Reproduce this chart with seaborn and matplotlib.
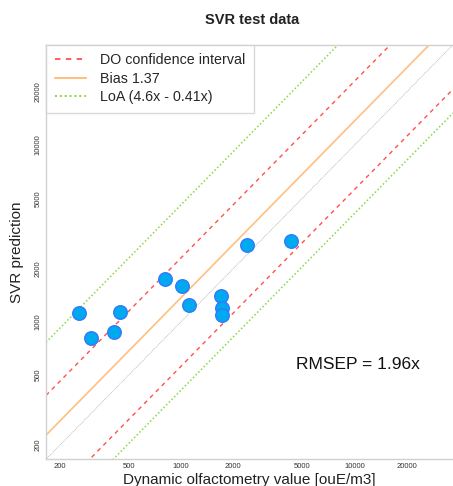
import numpy as np
import pandas as pd
import matplotlib
matplotlib.use("Agg")
import matplotlib.pyplot as plt
import seaborn as sns

# Data
do_values = [258, 303, 411, 441, 807, 1009, 1111, 1701, 1715, 1715, 2404, 4307]
svr_pred = [1122, 807, 870, 1127, 1748, 1588, 1241, 1397, 1188, 1089, 2722, 2844]

bias = 1.37
loa_upper, loa_lower = 4.6, 0.41
ci_upper, ci_lower = 2.3, 0.56
rmsep_text = "RMSEP = 1.96x"

tick_values = [200, 500, 1000, 2000, 5000, 10000, 20000]
tick_labels = ["200", "500", "1000", "2000", "5000", "10000", "20000"]

lims = (166, 37000)

sns.set_theme(style="white")
plt.rcParams['font.family'] = ['Liberation Sans', 'DejaVu Sans']

fig = plt.figure(figsize=(4.53, 4.86), dpi=100)
ax = fig.add_axes([0.1015, 0.0549, 0.8985, 0.853])

ax.set_xscale("log")
ax.set_yscale("log")

xs = np.array(lims, dtype=float)
lines = pd.DataFrame({
    "x": np.concatenate([xs] * 6),
    "y": np.concatenate([xs * 1.0, xs * bias, xs * ci_upper, xs * ci_lower, xs * loa_upper, xs * loa_lower]),
    "line": sum([[n] * 2 for n in ["identity", "bias", "ci_u", "ci_l", "loa_u", "loa_l"]], []),
})

styles = {
    "identity": dict(color="#b0b0b0", lw=0.6, ls=(0, (1, 1))),
    "bias": dict(color="#ffbf80", lw=1.2, ls="-"),
    "ci_u": dict(color="#ff5050", lw=1.0, ls=(0, (3, 3))),
    "ci_l": dict(color="#ff5050", lw=1.0, ls=(0, (3, 3))),
    "loa_u": dict(color="#88d840", lw=1.1, ls=(0, (1, 1.5))),
    "loa_l": dict(color="#88d840", lw=1.1, ls=(0, (1, 1.5))),
}
labels = {"ci_u": "DO confidence interval", "bias": "Bias 1.37", "loa_u": "LoA (4.6x - 0.41x)"}
handles = {}
for name, st in styles.items():
    d = lines[lines["line"] == name]
    sns.lineplot(data=d, x="x", y="y", ax=ax, color=st["color"], linewidth=st["lw"],
                 linestyle=st["ls"], legend=False, zorder=2)
    if name in labels:
        handles[name] = matplotlib.lines.Line2D([], [], color=st["color"], lw=st["lw"] + 0.3,
                                                ls=st["ls"], label=labels[name])

pts = pd.DataFrame({"do": do_values, "svr": svr_pred})
sns.scatterplot(data=pts, x="do", y="svr", ax=ax, s=95, color="#00aaee",
                edgecolor="#3377ff", linewidth=1.0, zorder=5)

ax.set_xlim(lims)
ax.set_ylim(lims)
ax.set_xticks(tick_values)
ax.set_xticklabels(tick_labels)
ax.set_yticks(tick_values)
ax.set_yticklabels(tick_labels, rotation=90, va="center")
ax.minorticks_off()
ax.tick_params(axis="both", length=0, labelsize=5.5, labelcolor="#333333", pad=3)

for side in ["left", "top", "bottom"]:
    ax.spines[side].set_color("#d0d0d0")
    ax.spines[side].set_linewidth(1.0)
ax.spines["right"].set_visible(False)

ax.set_xlabel("Dynamic olfactometry value [ouE/m3]", fontsize=11, color="#222222", labelpad=2)
ax.set_ylabel("SVR prediction", fontsize=11, color="#222222", labelpad=8)

fig.text(0.556, 0.958, "SVR test data", ha="center", va="center", fontsize=10.5, fontweight="bold", color="#222222")

ax.text(0.766, 0.228, rmsep_text, transform=ax.transAxes, ha="center", va="center", fontsize=12.5, color="#111111")

leg = ax.legend(handles=[handles["ci_u"], handles["bias"], handles["loa_u"]], loc="upper left",
                bbox_to_anchor=(0.0, 1.0), fontsize=10.3, frameon=True, fancybox=False,
                borderpad=0.6, handlelength=2.2, handletextpad=1.0, labelspacing=0.32,
                borderaxespad=0)
leg.get_frame().set_edgecolor("#d0d0d0")
leg.get_frame().set_linewidth(1.0)

fig.savefig("out.png", dpi=100)
